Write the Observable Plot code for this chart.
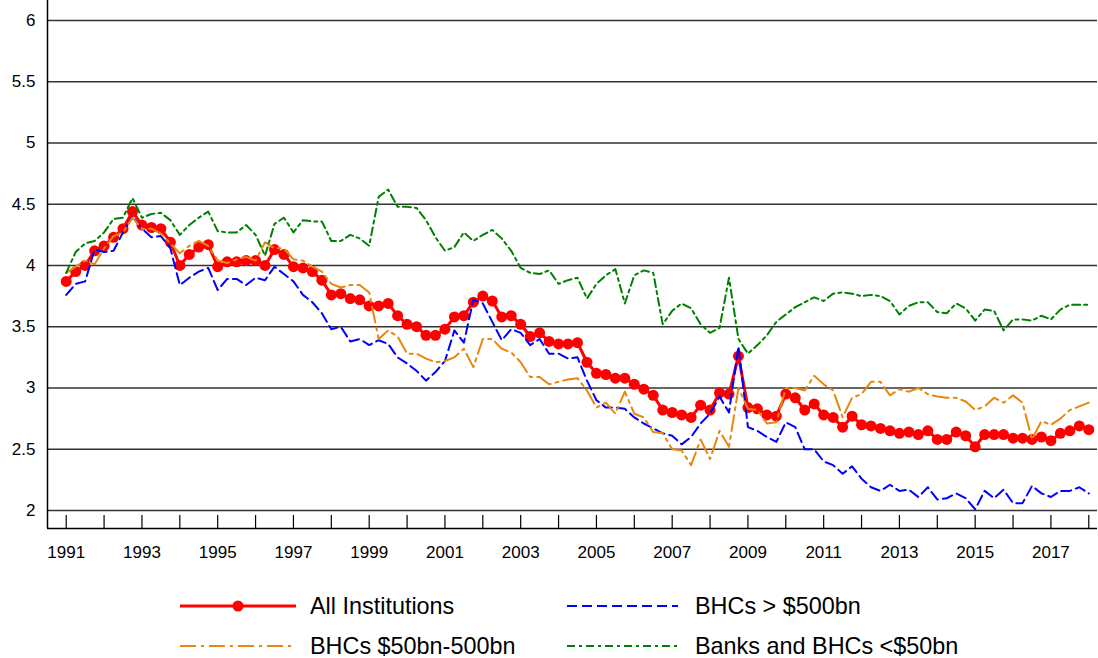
<!DOCTYPE html>
<html><head><meta charset="utf-8">
<script src="https://cdn.jsdelivr.net/npm/d3@7"></script>
<script src="https://cdn.jsdelivr.net/npm/@observablehq/plot@0.6"></script>
<style>
body{margin:0;background:#fff;font-family:"Liberation Sans",Arial,Helvetica,sans-serif;}
#wrap{position:relative;width:1098px;height:658px;overflow:hidden;}
.sw{position:absolute;}
.lt{position:absolute;font-size:23.4px;line-height:24px;color:#000;white-space:nowrap;}
</style></head><body><div id="wrap"><div id="chart"></div></div>
<script>
// Quarterly series, first value = 1991 Q1, last = 2018 Q1
const startYear = 1991;
const allInstitutions = [
 3.87,3.95,4.00,4.12, 4.16,4.23,4.30,4.44, 4.33,4.31,4.30,4.19, 4.00,4.09,4.15,4.17,
 3.99,4.03,4.03,4.04, 4.04,4.00,4.13,4.09, 3.99,3.98,3.95,3.88, 3.76,3.77,3.73,3.72,
 3.67,3.67,3.69,3.59, 3.52,3.50,3.43,3.43, 3.48,3.58,3.59,3.70, 3.75,3.71,3.58,3.59,
 3.52,3.42,3.45,3.38, 3.36,3.36,3.37,3.21, 3.12,3.11,3.08,3.08, 3.03,2.99,2.94,2.82,
 2.80,2.78,2.76,2.86, 2.82,2.96,2.95,3.26, 2.84,2.83,2.78,2.77, 2.95,2.92,2.82,2.87,
 2.78,2.76,2.68,2.77, 2.70,2.69,2.67,2.65, 2.63,2.64,2.62,2.65, 2.58,2.58,2.64,2.61,
 2.52,2.62,2.62,2.62, 2.59,2.59,2.58,2.60, 2.57,2.63,2.65,2.69, 2.66];
const bhcOver500 = [
 3.76,3.85,3.87,4.13, 4.11,4.12,4.27,4.40, 4.30,4.23,4.24,4.14, 3.84,3.90,3.95,3.98,
 3.80,3.89,3.89,3.84, 3.90,3.88,3.99,3.93, 3.87,3.76,3.70,3.61, 3.48,3.50,3.38,3.40,
 3.35,3.39,3.36,3.25, 3.20,3.14,3.06,3.13, 3.22,3.47,3.37,3.72, 3.69,3.54,3.39,3.48,
 3.45,3.35,3.40,3.28, 3.28,3.24,3.25,3.06, 2.90,2.84,2.84,2.83, 2.76,2.71,2.67,2.63,
 2.61,2.54,2.60,2.71, 2.79,2.93,2.80,3.34, 2.68,2.65,2.60,2.56, 2.72,2.68,2.50,2.50,
 2.40,2.37,2.30,2.36, 2.26,2.19,2.16,2.21, 2.16,2.17,2.11,2.19, 2.09,2.10,2.14,2.10,
 2.01,2.16,2.10,2.17, 2.06,2.06,2.20,2.14, 2.11,2.16,2.16,2.19, 2.14];
const bhc50to500 = [
 3.94,3.99,4.04,4.01, 4.14,4.24,4.27,4.39, 4.30,4.30,4.26,4.18, 4.10,4.16,4.20,4.16,
 4.04,4.02,4.05,4.07, 4.04,4.19,4.14,4.14, 4.05,4.04,3.99,3.95, 3.85,3.82,3.84,3.84,
 3.78,3.40,3.47,3.42, 3.28,3.28,3.24,3.21, 3.22,3.25,3.32,3.17, 3.40,3.40,3.32,3.29,
 3.21,3.09,3.09,3.03, 3.05,3.07,3.08,2.98, 2.84,2.88,2.79,2.97, 2.79,2.76,2.64,2.63,
 2.50,2.49,2.37,2.58, 2.42,2.65,2.52,3.00, 2.83,2.82,2.71,2.72, 3.00,3.00,2.98,3.10,
 3.03,2.98,2.76,2.92, 2.95,3.05,3.05,2.94, 2.99,2.97,3.00,2.95, 2.93,2.92,2.92,2.89,
 2.82,2.85,2.92,2.88, 2.94,2.88,2.58,2.73, 2.70,2.75,2.82,2.85, 2.88];
const banksUnder50 = [
 3.94,4.11,4.18,4.20, 4.27,4.38,4.39,4.55, 4.39,4.42,4.43,4.37, 4.25,4.33,4.39,4.44,
 4.28,4.27,4.27,4.33, 4.25,4.08,4.34,4.39, 4.27,4.37,4.36,4.36, 4.20,4.20,4.25,4.22,
 4.16,4.56,4.62,4.48, 4.48,4.47,4.37,4.23, 4.12,4.15,4.27,4.20, 4.25,4.29,4.22,4.12,
 3.98,3.94,3.93,3.96, 3.85,3.88,3.90,3.73, 3.85,3.92,3.97,3.69, 3.92,3.96,3.94,3.52,
 3.63,3.69,3.65,3.52, 3.45,3.49,3.90,3.40, 3.28,3.35,3.43,3.54, 3.60,3.66,3.70,3.74,
 3.71,3.77,3.78,3.77, 3.75,3.76,3.75,3.71, 3.60,3.67,3.70,3.70, 3.62,3.61,3.69,3.65,
 3.55,3.64,3.63,3.47, 3.56,3.56,3.55,3.59, 3.56,3.64,3.68,3.68, 3.68];

const seriesNames = ["All Institutions","BHCs > $500bn","BHCs $50bn-500bn","Banks and BHCs <$50bn"];
const yTicks = [2,2.5,3,3.5,4,4.5,5,5.5,6];
const yTickLabels = ["2","2.5","3","3.5","4","4.5","5","5.5","6"];
const tickYears = [1991,1992,1993,1994,1995,1996,1997,1998,1999,2000,2001,2002,2003,2004,2005,2006,2007,2008,2009,2010,2011,2012,2013,2014,2015,2016,2017,2018];
const labelYears = [1991,1993,1995,1997,1999,2001,2003,2005,2007,2009,2011,2013,2015,2017];

const xDomain = [1990.506, 2018.23];
const yDomain = [1.853, 6.163];

const styles = [
  {stroke:"#ff0000", width:3, dash:null, dots:true},
  {stroke:"#0000ff", width:2, dash:"10,5", dots:false},
  {stroke:"#e8870e", width:2, dash:"16,5,3,5", dots:false},
  {stroke:"#008000", width:2, dash:"8,4,3,4", dots:false}
];
const allSeries = [allInstitutions, bhcOver500, bhc50to500, banksUnder50];
const tables = allSeries.map((vals, s) => vals.map((v, i) => ({t: startYear + i/4, v, s: seriesNames[s]})));

const marks = [
  Plot.ruleY(yTicks, {stroke:"#333", strokeWidth:1.4}),
  Plot.tickX(tickYears, {x: d => d, insetTop: 515, stroke:"#000", strokeWidth:1.2}),
  Plot.ruleX([xDomain[0]], {stroke:"#000", strokeWidth:1.5}),
  Plot.ruleY([yDomain[0]], {stroke:"#000", strokeWidth:1.5}),
  Plot.axisY(yTicks, {tickSize:0, tickPadding:12, fontSize:17, label:null, tickFormat: d => yTickLabels[yTicks.indexOf(d)]}),
  Plot.axisX(labelYears, {tickSize:0, tickPadding:17, fontSize:17, label:null, tickFormat: d => String(d)})
];
tables.forEach((tab, s) => {
  const st = styles[s];
  marks.push(Plot.line(tab, {x:"t", y:"v", stroke: st.stroke, strokeWidth: st.width, strokeDasharray: st.dash, strokeLinejoin:"round"}));
  if (st.dots) marks.push(Plot.dot(tab, {x:"t", y:"v", r:5.5, fill: st.stroke, stroke:"none"}));
});

const chart = Plot.plot({
  width:1098, height:575,
  marginLeft:47, marginRight:1, marginTop:0, marginBottom:47,
  x:{domain:xDomain, label:null}, y:{domain:yDomain, label:null},
  style:{fontFamily:'"Liberation Sans", Arial, Helvetica, sans-serif', fontSize:"17px", color:"#000", background:"#fff", overflow:"visible"},
  marks
});
document.getElementById("chart").appendChild(chart);

// Legend
const wrap = document.getElementById("wrap");
const legendPos = [
  {sx:180, sw:116, tx:310, y:606},
  {sx:567, sw:111, tx:695, y:606},
  {sx:180, sw:116, tx:310, y:646},
  {sx:567, sw:111, tx:695, y:646}
];
seriesNames.forEach((name, s) => {
  const p = legendPos[s], st = styles[s];
  const svg = d3.create("svg").attr("class","sw").attr("width", p.sw).attr("height", 20)
    .style("left", p.sx + "px").style("top", (p.y - 10) + "px");
  svg.append("line").attr("x1",0).attr("x2",p.sw).attr("y1",10).attr("y2",10)
    .attr("stroke", st.stroke).attr("stroke-width", st.width).attr("stroke-dasharray", st.dash);
  if (st.dots) svg.append("circle").attr("cx", p.sw/2).attr("cy",10).attr("r",5.5).attr("fill", st.stroke);
  wrap.appendChild(svg.node());
  const t = document.createElement("div");
  t.className = "lt"; t.textContent = name;
  t.style.left = p.tx + "px"; t.style.top = (p.y - 12) + "px";
  wrap.appendChild(t);
});
</script></body></html>
